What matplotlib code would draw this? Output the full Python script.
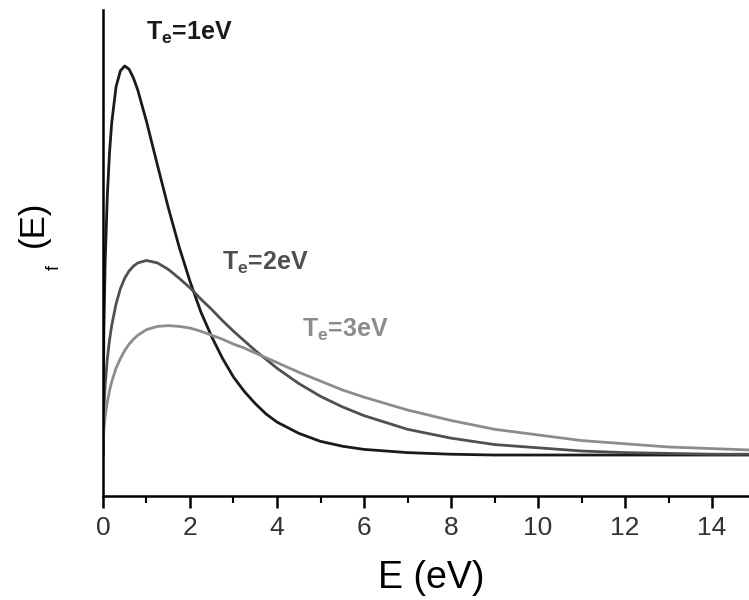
import matplotlib.pyplot as plt

plt.rcParams['font.family'] = ['Liberation Sans', 'DejaVu Sans']

# energy grid (eV) and distribution values
energy = [0, 0.02, 0.05, 0.1, 0.15, 0.2, 0.3, 0.4, 0.5, 0.6, 0.7, 0.8, 1.0, 1.25, 1.5,
          1.75, 2.0, 2.25, 2.5, 2.75, 3.0, 3.25, 3.5, 3.75, 4.0, 4.5, 5.0, 5.5, 6.0,
          7.0, 8.0, 9.0, 10.0, 11.0, 12.0, 13.0, 14.0, 15.0]
f_te1 = [0, 0.156, 0.240, 0.323, 0.376, 0.413, 0.458, 0.478, 0.484, 0.480, 0.469, 0.454,
         0.415, 0.361, 0.308, 0.259, 0.216, 0.178, 0.147, 0.120, 0.097, 0.079, 0.064,
         0.051, 0.041, 0.027, 0.017, 0.011, 0.007, 0.003, 0.001, 0, 0, 0, 0, 0, 0, 0]
f_te2 = [0, 0.056, 0.087, 0.120, 0.143, 0.161, 0.188, 0.207, 0.220, 0.229, 0.235, 0.239,
         0.242, 0.239, 0.231, 0.220, 0.208, 0.194, 0.181, 0.167, 0.154, 0.142, 0.130,
         0.119, 0.108, 0.089, 0.073, 0.060, 0.049, 0.032, 0.021, 0.013, 0.009,
         0.005, 0.003, 0.002, 0.001, 0.001]
f_te3 = [0, 0.031, 0.048, 0.066, 0.080, 0.091, 0.108, 0.120, 0.130, 0.138, 0.144, 0.149,
         0.156, 0.160, 0.161, 0.160, 0.158, 0.154, 0.149, 0.144, 0.138, 0.133, 0.127,
         0.121, 0.115, 0.103, 0.092, 0.081, 0.072, 0.056, 0.043, 0.032, 0.025,
         0.018, 0.014, 0.010, 0.008, 0.006]

series = [("1", f_te1, "#1a1a1a"), ("2", f_te2, "#505050"), ("3", f_te3, "#8c8c8c")]
label_pos = {"1": (1.0, 0.516), "2": (2.74, 0.230), "3": (4.57, 0.147)}

fig = plt.figure(figsize=(7.49, 6.0), dpi=100)
ax = fig.add_axes([0.1375, 0.1733, 0.8625, 0.81])

for te, vals, col in series:
    ax.plot(energy, vals, color=col, linewidth=2.0)
    x, y = label_pos[te]
    ax.text(x, y, r"T$_\mathregular{e}$=" + te + "eV", color=col, fontsize=18,
            fontweight="bold", va="baseline", ha="left")

ax.set_xlim(0, 14.85)
ax.set_ylim(-0.051, 0.5536)

for s in ["top", "right"]:
    ax.spines[s].set_visible(False)
ax.spines["left"].set_linewidth(1.8)
ax.spines["bottom"].set_linewidth(1.8)

ax.set_xticks(range(0, 15, 2))
ax.set_xticks(range(1, 15, 2), minor=True)
ax.set_yticks([])
ax.tick_params(axis="x", which="major", direction="out", length=8.5, width=1.8,
               labelsize=19, labelcolor="#333333", pad=6)
ax.tick_params(axis="x", which="minor", direction="out", length=5, width=1.5)

fig.text(431 / 749, 1 - 578 / 600, "E (eV)", fontsize=27, ha="center", va="center")

# y label, partly faded in the scan
fig.text(33 / 749, 1 - 224 / 600, "(E)", rotation=90, fontsize=25, ha="center", va="center")
fig.text(54 / 749, 1 - 268 / 600, "f", rotation=90, fontsize=13, ha="center", va="center")

fig.savefig("out.png", dpi=100)
